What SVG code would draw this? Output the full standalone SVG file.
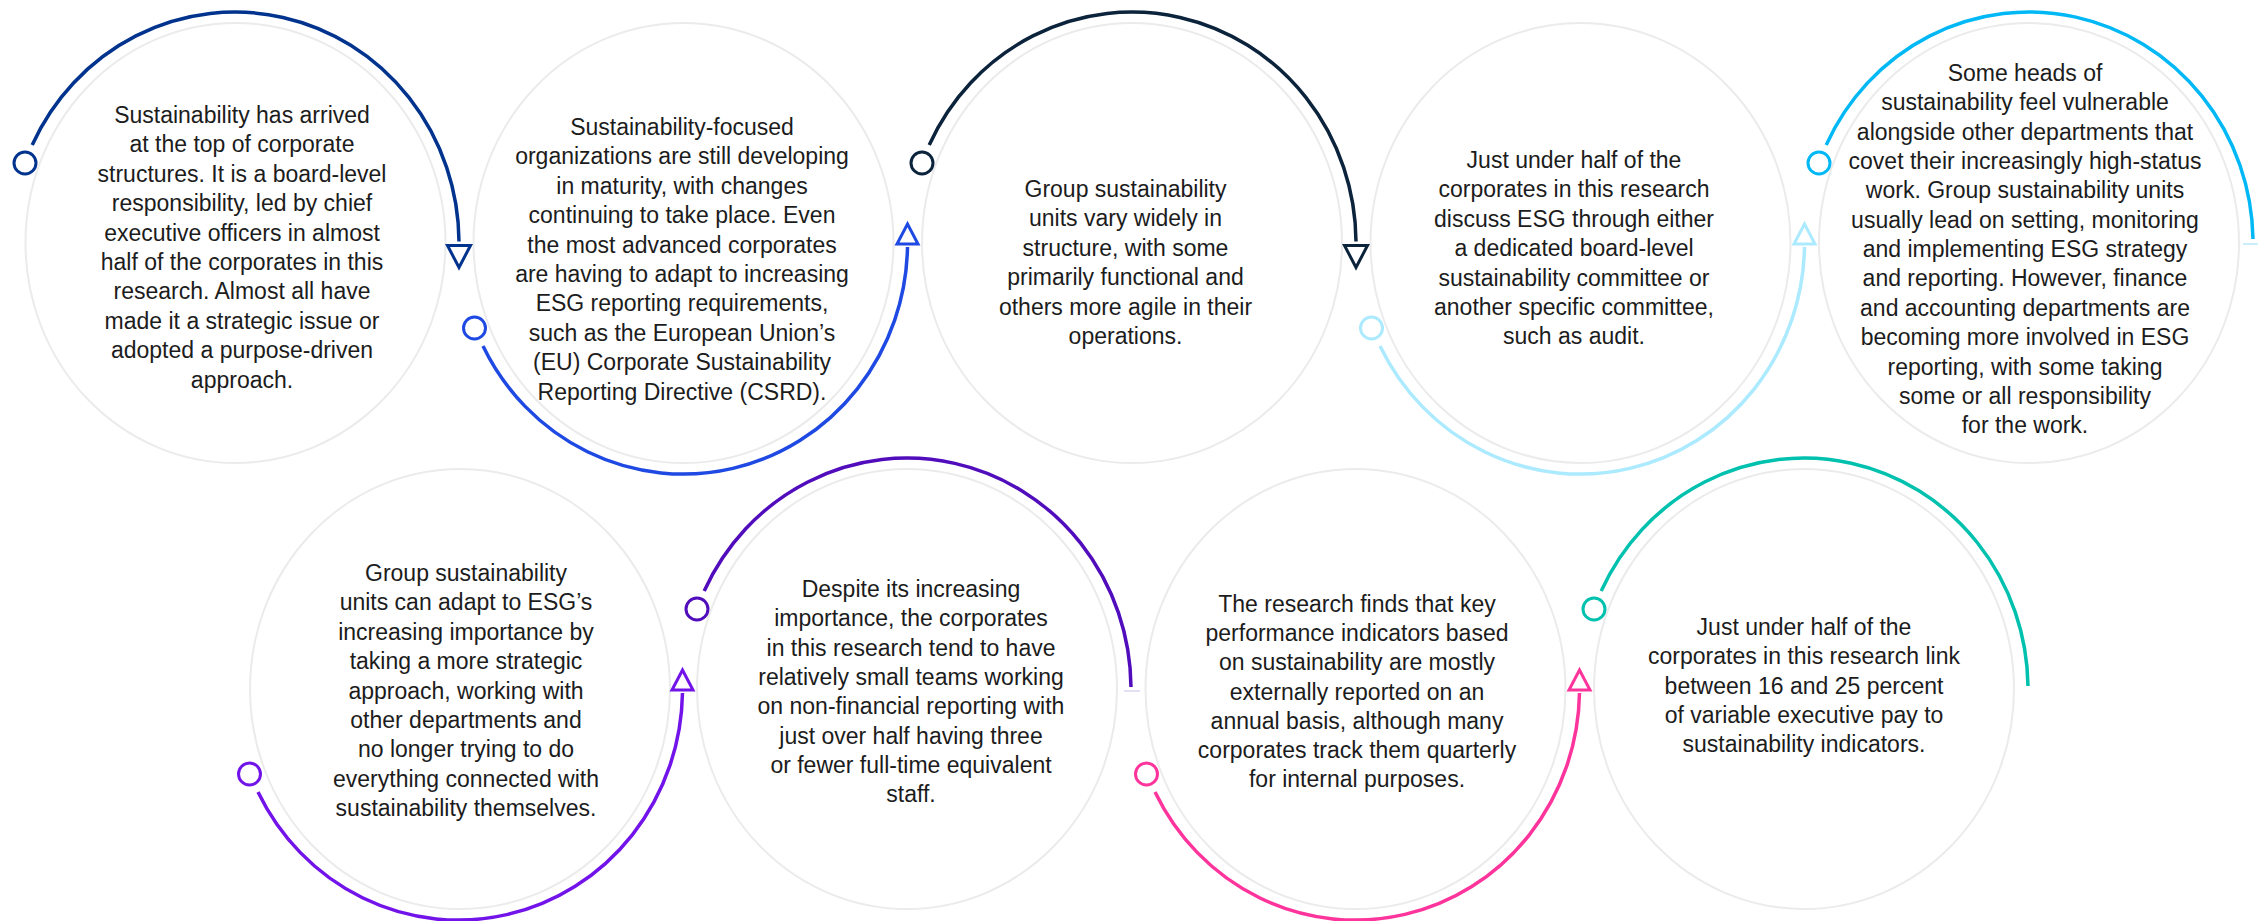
<svg xmlns="http://www.w3.org/2000/svg" xmlns:xlink="http://www.w3.org/1999/xlink" width="2258" height="921" viewBox="0 0 2258 921">
<style>
.ring{fill:#ffffff;stroke:#ebebeb;stroke-width:2}
.t{font-family:"Liberation Sans",Arial,sans-serif;font-size:23px;fill:#1c1c1c;text-anchor:middle}
.arc{fill:none;stroke-width:3.5;stroke-linecap:butt}
.dot{fill:#ffffff;stroke-width:3}
.tri{fill:#ffffff;stroke-width:3;stroke-linejoin:miter}
.faint{fill:none;stroke-width:1.5}
</style>
<defs>
<circle id="dot" r="11"/>
<polygon id="tri-down" points="-11.5,0 11.5,0 0,22"/>
<polygon id="tri-up" points="-10.5,0 10.5,0 0,-20"/>
</defs>
<rect width="2258" height="921" fill="#ffffff"/>

<g id="node1">
<ellipse class="ring" cx="235.5" cy="243" rx="210" ry="220"/>
<text class="t" x="242" y="123"><tspan x="242">Sustainability has arrived</tspan><tspan x="242" dy="29.4">at the top of corporate</tspan><tspan x="242" dy="29.4">structures. It is a board-level</tspan><tspan x="242" dy="29.4">responsibility, led by chief</tspan><tspan x="242" dy="29.4">executive officers in almost</tspan><tspan x="242" dy="29.4">half of the corporates in this</tspan><tspan x="242" dy="29.4">research. Almost all have</tspan><tspan x="242" dy="29.4">made it a strategic issue or</tspan><tspan x="242" dy="29.4">adopted a purpose-driven</tspan><tspan x="242" dy="29.4">approach.</tspan></text>
</g>
<g id="node2">
<ellipse class="ring" cx="683.5" cy="243" rx="210" ry="220"/>
<text class="t" x="682" y="135"><tspan x="682">Sustainability-focused</tspan><tspan x="682" dy="29.4">organizations are still developing</tspan><tspan x="682" dy="29.4">in maturity, with changes</tspan><tspan x="682" dy="29.4">continuing to take place. Even</tspan><tspan x="682" dy="29.4">the most advanced corporates</tspan><tspan x="682" dy="29.4">are having to adapt to increasing</tspan><tspan x="682" dy="29.4">ESG reporting requirements,</tspan><tspan x="682" dy="29.4">such as the European Union’s</tspan><tspan x="682" dy="29.4">(EU) Corporate Sustainability</tspan><tspan x="682" dy="29.4">Reporting Directive (CSRD).</tspan></text>
</g>
<g id="node3">
<ellipse class="ring" cx="1132" cy="243" rx="210" ry="220"/>
<text class="t" x="1125.5" y="197"><tspan x="1125.5">Group sustainability</tspan><tspan x="1125.5" dy="29.4">units vary widely in</tspan><tspan x="1125.5" dy="29.4">structure, with some</tspan><tspan x="1125.5" dy="29.4">primarily functional and</tspan><tspan x="1125.5" dy="29.4">others more agile in their</tspan><tspan x="1125.5" dy="29.4">operations.</tspan></text>
</g>
<g id="node4">
<ellipse class="ring" cx="1580.5" cy="243" rx="210" ry="220"/>
<text class="t" x="1574" y="168"><tspan x="1574">Just under half of the</tspan><tspan x="1574" dy="29.4">corporates in this research</tspan><tspan x="1574" dy="29.4">discuss ESG through either</tspan><tspan x="1574" dy="29.4">a dedicated board-level</tspan><tspan x="1574" dy="29.4">sustainability committee or</tspan><tspan x="1574" dy="29.4">another specific committee,</tspan><tspan x="1574" dy="29.4">such as audit.</tspan></text>
</g>
<g id="node5">
<ellipse class="ring" cx="2029" cy="243" rx="210" ry="220"/>
<text class="t" x="2025" y="81"><tspan x="2025">Some heads of</tspan><tspan x="2025" dy="29.35">sustainability feel vulnerable</tspan><tspan x="2025" dy="29.35">alongside other departments that</tspan><tspan x="2025" dy="29.35">covet their increasingly high-status</tspan><tspan x="2025" dy="29.35">work. Group sustainability units</tspan><tspan x="2025" dy="29.35">usually lead on setting, monitoring</tspan><tspan x="2025" dy="29.35">and implementing ESG strategy</tspan><tspan x="2025" dy="29.35">and reporting. However, finance</tspan><tspan x="2025" dy="29.35">and accounting departments are</tspan><tspan x="2025" dy="29.35">becoming more involved in ESG</tspan><tspan x="2025" dy="29.35">reporting, with some taking</tspan><tspan x="2025" dy="29.35">some or all responsibility</tspan><tspan x="2025" dy="29.35">for the work.</tspan></text>
</g>
<g id="node6">
<ellipse class="ring" cx="460" cy="689" rx="210" ry="220"/>
<text class="t" x="466" y="581"><tspan x="466">Group sustainability</tspan><tspan x="466" dy="29.4">units can adapt to ESG’s</tspan><tspan x="466" dy="29.4">increasing importance by</tspan><tspan x="466" dy="29.4">taking a more strategic</tspan><tspan x="466" dy="29.4">approach, working with</tspan><tspan x="466" dy="29.4">other departments and</tspan><tspan x="466" dy="29.4">no longer trying to do</tspan><tspan x="466" dy="29.4">everything connected with</tspan><tspan x="466" dy="29.4">sustainability themselves.</tspan></text>
</g>
<g id="node7">
<ellipse class="ring" cx="907" cy="689" rx="210" ry="220"/>
<text class="t" x="911" y="597"><tspan x="911">Despite its increasing</tspan><tspan x="911" dy="29.3">importance, the corporates</tspan><tspan x="911" dy="29.3">in this research tend to have</tspan><tspan x="911" dy="29.3">relatively small teams working</tspan><tspan x="911" dy="29.3">on non-financial reporting with</tspan><tspan x="911" dy="29.3">just over half having three</tspan><tspan x="911" dy="29.3">or fewer full-time equivalent</tspan><tspan x="911" dy="29.3">staff.</tspan></text>
</g>
<g id="node8">
<ellipse class="ring" cx="1355.5" cy="689" rx="210" ry="220"/>
<text class="t" x="1357" y="612"><tspan x="1357">The research finds that key</tspan><tspan x="1357" dy="29.2">performance indicators based</tspan><tspan x="1357" dy="29.2">on sustainability are mostly</tspan><tspan x="1357" dy="29.2">externally reported on an</tspan><tspan x="1357" dy="29.2">annual basis, although many</tspan><tspan x="1357" dy="29.2">corporates track them quarterly</tspan><tspan x="1357" dy="29.2">for internal purposes.</tspan></text>
</g>
<g id="node9">
<ellipse class="ring" cx="1804" cy="689" rx="210" ry="220"/>
<text class="t" x="1804" y="635"><tspan x="1804">Just under half of the</tspan><tspan x="1804" dy="29.3">corporates in this research link</tspan><tspan x="1804" dy="29.3">between 16 and 25 percent</tspan><tspan x="1804" dy="29.3">of variable executive pay to</tspan><tspan x="1804" dy="29.3">sustainability indicators.</tspan></text>
</g>

<g id="connectors">
<!-- C1 -->
<path class="arc" stroke="#00338D" d="M32.2 145 A224 231 0 0 1 459 241.5"/>
<use xlink:href="#dot" href="#dot" class="dot" stroke="#00338D" x="25" y="163"/>
<use xlink:href="#tri-down" href="#tri-down" class="tri" stroke="#00338D" x="459" y="245.5"/>
<!-- C2 -->
<path class="arc" stroke="#1E49E2" d="M483 346 A224 231 0 0 0 907.5 247"/>
<use xlink:href="#dot" href="#dot" class="dot" stroke="#1E49E2" x="474.5" y="328"/>
<use xlink:href="#tri-up" href="#tri-up" class="tri" stroke="#1E49E2" x="907.5" y="244"/>
<!-- C3 -->
<path class="arc" stroke="#0C233C" d="M929.2 145 A224 231 0 0 1 1356 241.5"/>
<use xlink:href="#dot" href="#dot" class="dot" stroke="#0C233C" x="922" y="163"/>
<use xlink:href="#tri-down" href="#tri-down" class="tri" stroke="#0C233C" x="1356" y="245.5"/>
<!-- C4 -->
<path class="arc" stroke="#ACEAFF" d="M1380 346 A224 231 0 0 0 1804.5 247"/>
<use xlink:href="#dot" href="#dot" class="dot" stroke="#ACEAFF" x="1371.5" y="328"/>
<use xlink:href="#tri-up" href="#tri-up" class="tri" stroke="#ACEAFF" x="1804.5" y="244"/>
<!-- C5 -->
<path class="arc" stroke="#00B8F5" d="M1826.2 145 A224 231 0 0 1 2253 239"/>
<use xlink:href="#dot" href="#dot" class="dot" stroke="#00B8F5" x="1819" y="163"/>
<line class="faint" stroke="#B8E8FB" x1="2243" y1="244" x2="2258" y2="244"/>
<!-- C6 -->
<path class="arc" stroke="#7213EA" d="M258 792 A224 231 0 0 0 682.5 693"/>
<use xlink:href="#dot" href="#dot" class="dot" stroke="#7213EA" x="249.5" y="774"/>
<use xlink:href="#tri-up" href="#tri-up" class="tri" stroke="#7213EA" x="682.5" y="690"/>
<!-- C7 -->
<path class="arc" stroke="#510DBC" d="M704.2 591 A224 231 0 0 1 1131 687"/>
<use xlink:href="#dot" href="#dot" class="dot" stroke="#510DBC" x="697" y="609"/>
<line class="faint" stroke="#DCD4F3" x1="1124" y1="691" x2="1140" y2="691"/>
<!-- C8 -->
<path class="arc" stroke="#FD349C" d="M1155 792 A224 231 0 0 0 1579.5 693"/>
<use xlink:href="#dot" href="#dot" class="dot" stroke="#FD349C" x="1146.5" y="774"/>
<use xlink:href="#tri-up" href="#tri-up" class="tri" stroke="#FD349C" x="1579.5" y="690"/>
<!-- C9 -->
<path class="arc" stroke="#00C0AE" d="M1601.2 591 A224 231 0 0 1 2028 686"/>
<use xlink:href="#dot" href="#dot" class="dot" stroke="#00C0AE" x="1594" y="609"/>
</g>
</svg>
